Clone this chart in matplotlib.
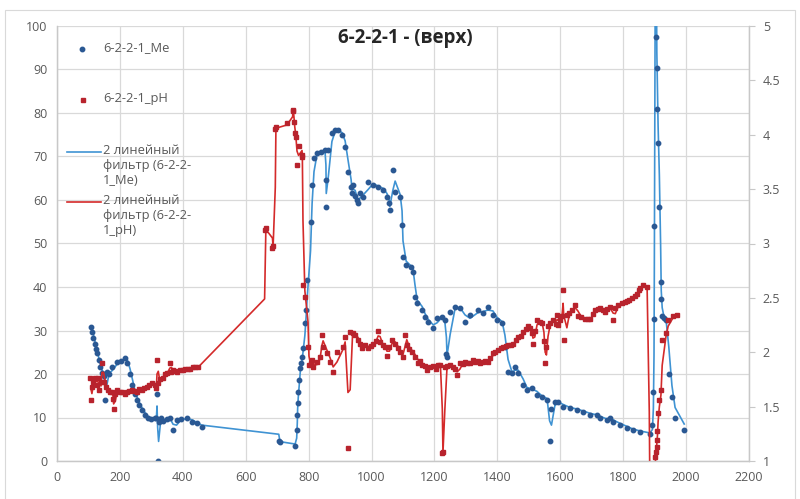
#!/usr/bin/env python
"""Me and pH profile for 6-2-2-1 (top) with 2-point moving-average lines."""

import matplotlib.pyplot as plt
import numpy as np
import pandas as pd
from matplotlib.lines import Line2D
from matplotlib.patches import Rectangle

plt.rcParams["font.family"] = ["Open Sans", "DejaVu Sans"]

TITLE = "6-2-2-1 - (верх)"
ME_LABEL = "6-2-2-1_Me"
PH_LABEL = "6-2-2-1_pH"
ME_MA_LABEL = "2 линейный\nфильтр (6-2-2-\n1_Me)"
PH_MA_LABEL = "2 линейный\nфильтр (6-2-2-\n1_pH)"

# Me (left axis)
me_x = [108, 112, 116, 120, 124, 128, 132, 137, 143, 150, 153, 158, 166, 175, 190, 205, 216, 224,
        232, 240, 247, 254, 262, 270, 280, 290, 300, 310, 316, 318, 320, 323, 330, 337, 350, 360,
        369, 380, 395, 413, 430, 445, 460, 705, 709, 757, 762, 764, 765, 767, 770, 773, 775, 779,
        782, 788, 792, 796, 806, 811, 817, 826, 839, 852, 855, 856, 862, 874, 884, 894, 906, 916,
        925, 935, 938, 941, 948, 954, 957, 963, 973, 989, 1005, 1021, 1037, 1049, 1056, 1058, 1068,
        1075, 1091, 1097, 1100, 1110, 1126, 1132, 1138, 1145, 1161, 1170, 1180, 1196, 1208, 1224,
        1232, 1238, 1240, 1250, 1265, 1281, 1297, 1313, 1339, 1355, 1370, 1386, 1399, 1415, 1424,
        1434, 1447, 1456, 1466, 1482, 1494, 1510, 1526, 1542, 1558, 1566, 1572, 1583, 1593, 1609,
        1631, 1653, 1673, 1695, 1717, 1727, 1749, 1758, 1768, 1790, 1812, 1831, 1854, 1885, 1893,
        1896, 1898, 1899, 1901, 1903, 1905, 1907, 1909, 1911, 1915, 1919, 1921, 1924, 1930, 1936,
        1945, 1955, 1965, 1994]
me_y = [30.8, 29.6, 28.3, 27.0, 25.7, 24.8, 23.2, 21.6, 20.2, 19.5, 14.0, 20.5, 20.0, 21.5, 22.8,
        23.0, 23.7, 22.5, 20.0, 17.5, 15.5, 14.0, 12.8, 11.7, 10.5, 9.9, 9.6, 9.9, 9.9, 15.4, 0.0,
        9.0, 9.9, 9.2, 9.6, 9.8, 7.1, 9.4, 9.6, 9.9, 9.0, 8.7, 7.8, 4.5, 4.4, 3.4, 7.1, 10.6, 13.3,
        15.9, 18.6, 21.4, 22.5, 23.9, 26.0, 31.7, 34.7, 41.6, 55.0, 63.4, 69.6, 70.8, 71.0, 71.5,
        64.6, 58.4, 71.5, 75.4, 76.0, 76.0, 75.0, 72.2, 66.4, 63.0, 61.6, 63.4, 61.0, 60.0, 59.3,
        61.6, 60.7, 64.1, 63.4, 63.0, 62.3, 60.7, 59.3, 57.7, 66.9, 61.8, 60.7, 54.3, 46.9, 45.0,
        44.6, 43.4, 37.7, 36.3, 34.7, 33.1, 32.0, 30.6, 32.9, 33.1, 32.4, 24.5, 24.0, 34.3, 35.4,
        35.2, 32.0, 33.6, 34.7, 34.0, 35.4, 33.6, 32.4, 31.7, 26.2, 20.5, 20.2, 21.6, 20.2, 17.5,
        16.3, 16.8, 15.2, 14.7, 14.0, 4.5, 12.0, 13.6, 13.6, 12.4, 12.2, 11.7, 11.3, 10.6, 10.6,
        9.9, 9.4, 9.9, 9.0, 8.3, 7.6, 7.1, 6.7, 6.2, 8.3, 15.9, 32.6, 54.0, 125.0, 140.0, 97.5,
        90.3, 81.0, 73.1, 58.4, 41.2, 37.2, 33.3, 32.8, 32.5, 20.0, 14.7, 9.9, 7.1]

# pH (right axis)
ph_x = [105, 108, 111, 116, 121, 126, 130, 135, 140, 143, 148, 155, 162, 170, 175, 178, 180, 185,
        191, 200, 207, 215, 222, 230, 238, 246, 254, 262, 270, 278, 286, 294, 302, 310, 316, 318,
        322, 327, 337, 344, 350, 359, 364, 369, 375, 382, 391, 400, 408, 416, 424, 432, 440, 448,
        660, 664, 685, 687, 694, 696, 731, 749, 751, 753, 756, 759, 763, 768, 779, 780, 782, 788,
        798, 801, 806, 810, 814, 826, 836, 842, 846, 858, 868, 878, 890, 909, 916, 925, 932, 940,
        948, 957, 963, 970, 979, 989, 997, 1005, 1013, 1021, 1027, 1035, 1043, 1049, 1057, 1065,
        1075, 1083, 1091, 1100, 1107, 1112, 1120, 1129, 1138, 1148, 1155, 1161, 1170, 1176, 1185,
        1196, 1204, 1211, 1219, 1225, 1227, 1233, 1240, 1250, 1258, 1265, 1272, 1281, 1290, 1297,
        1305, 1313, 1321, 1330, 1337, 1345, 1354, 1362, 1370, 1378, 1386, 1394, 1402, 1410, 1418,
        1426, 1434, 1442, 1450, 1458, 1466, 1474, 1482, 1490, 1498, 1504, 1510, 1513, 1519, 1526,
        1534, 1542, 1548, 1552, 1556, 1561, 1568, 1577, 1585, 1590, 1593, 1600, 1605, 1609, 1611,
        1621, 1629, 1637, 1647, 1656, 1667, 1679, 1687, 1695, 1703, 1711, 1719, 1727, 1735, 1742,
        1750, 1758, 1768, 1775, 1784, 1796, 1805, 1812, 1820, 1828, 1836, 1844, 1850, 1854, 1863,
        1876, 1883, 1886, 1900, 1902, 1904, 1906, 1907, 1909, 1911, 1915, 1920, 1924, 1936, 1943,
        1958, 1971]
ph_y = [1.76, 1.56, 1.68, 1.73, 1.76, 1.70, 1.76, 1.65, 1.73, 1.90, 1.73, 1.68, 1.65, 1.63, 1.63,
        1.57, 1.48, 1.62, 1.65, 1.63, 1.63, 1.62, 1.63, 1.64, 1.65, 1.64, 1.63, 1.66, 1.65, 1.67,
        1.68, 1.70, 1.72, 1.70, 1.67, 1.93, 1.72, 1.75, 1.76, 1.80, 1.81, 1.90, 1.82, 1.84, 1.83,
        1.82, 1.84, 1.84, 1.85, 1.85, 1.85, 1.86, 1.86, 1.86, 3.12, 3.14, 2.96, 2.98, 4.05, 4.07,
        4.11, 4.22, 4.23, 4.12, 4.02, 3.98, 3.72, 3.90, 3.81, 3.80, 2.62, 2.51, 2.05, 1.88, 1.90,
        1.93, 1.86, 1.91, 1.96, 2.16, 2.05, 1.99, 1.91, 1.82, 2.00, 2.05, 2.14, 1.12, 2.19, 2.18,
        2.16, 2.11, 2.08, 2.04, 2.07, 2.04, 2.06, 2.08, 2.10, 2.20, 2.09, 2.07, 2.05, 1.97, 2.05,
        2.11, 2.08, 2.04, 2.00, 1.96, 2.16, 2.07, 2.03, 2.00, 1.96, 1.90, 1.92, 1.88, 1.87, 1.84,
        1.86, 1.87, 1.85, 1.88, 1.88, 1.07, 1.08, 1.86, 1.87, 1.88, 1.86, 1.85, 1.79, 1.90, 1.89,
        1.91, 1.90, 1.90, 1.93, 1.91, 1.92, 1.90, 1.91, 1.92, 1.91, 1.95, 1.99, 2.00, 2.02, 2.04,
        2.05, 2.06, 2.07, 2.07, 2.08, 2.11, 2.14, 2.15, 2.19, 2.21, 2.24, 2.22, 2.18, 2.08, 2.20,
        2.30, 2.28, 2.27, 2.10, 1.90, 2.05, 2.24, 2.27, 2.30, 2.26, 2.34, 2.25, 2.30, 2.33, 2.57,
        2.11, 2.34, 2.36, 2.39, 2.43, 2.33, 2.32, 2.31, 2.31, 2.31, 2.35, 2.39, 2.40, 2.41, 2.39,
        2.37, 2.40, 2.42, 2.30, 2.41, 2.43, 2.45, 2.46, 2.47, 2.48, 2.50, 2.52, 2.54, 2.57, 2.59,
        2.62, 2.60, 0.30, 0.30, 0.90, 1.04, 1.08, 1.13, 1.19, 1.28, 1.44, 1.56, 1.65, 2.11, 2.18,
        2.30, 2.33, 2.34]

x_ticks = np.arange(0, 2201, 200)
me_ticks = np.arange(0, 101, 10)
ph_ticks = [1, 1.5, 2, 2.5, 3, 3.5, 4, 4.5, 5]
ph_tick_labels = ["1", "1.5", "2", "2.5", "3", "3.5", "4", "4.5", "5"]

ME_DOT = "#2a5893"
ME_LINE = "#3f93d3"
PH_DOT = "#b8232d"
PH_LINE = "#d42a2a"
GRID = "#d9d9d9"
TEXT = "#595959"


def main() -> None:
    me = pd.DataFrame({"x": me_x, "y": me_y})
    ph = pd.DataFrame({"x": ph_x, "y": ph_y})
    me["ma"] = me["y"].rolling(2).mean()
    ph["ma"] = ph["y"].rolling(2).mean()

    fig = plt.figure(figsize=(8.0, 4.99), dpi=100)
    ax = fig.add_axes([57 / 800, 1 - 461 / 499, 692 / 800, 435 / 499])
    ax2 = ax.twinx()

    ax.plot(me["x"], me["ma"], color=ME_LINE, lw=1.2, zorder=2)
    ax.plot(me["x"], me["y"], ls="none", marker="o", ms=3.2, color=ME_DOT, zorder=3)
    ax2.plot(ph["x"], ph["ma"], color=PH_LINE, lw=1.2, zorder=2)
    ax2.plot(ph["x"], ph["y"], ls="none", marker="s", ms=3.4, color=PH_DOT, zorder=3)

    ax.set_xlim(0, 2200)
    ax.set_ylim(0, 100)
    ax2.set_ylim(1, 5)
    ax.set_xticks(x_ticks)
    ax.set_yticks(me_ticks)
    ax2.set_yticks(ph_ticks, ph_tick_labels)
    ax.grid(color=GRID, lw=0.9)
    ax.set_axisbelow(True)
    for a in (ax, ax2):
        for s in a.spines.values():
            s.set_color("#c8c8c8")
            s.set_linewidth(0.9)
    ax.spines["top"].set_visible(False)
    ax2.spines["top"].set_visible(False)
    ax.tick_params(axis="y", length=0, pad=7, labelsize=9, labelcolor=TEXT)
    ax.tick_params(axis="x", length=0, pad=7, labelsize=9, labelcolor=TEXT)
    ax2.tick_params(axis="y", length=4, color="#c8c8c8", pad=6, labelsize=9, labelcolor=TEXT)

    fig.text(405 / 800, 1 - 38 / 499, TITLE, ha="center", va="center", fontsize=13.5,
             weight="bold", color="#262626")

    # legend drawn by hand so the line handles sit on the first text line, as in Excel
    def px(x, y):
        return x / 800, 1 - y / 499

    fig.add_artist(Line2D(*zip(px(82, 49)), marker="o", ms=3.2, color=ME_DOT, ls="none"))
    fig.add_artist(Line2D(*zip(px(83, 100)), marker="s", ms=3.4, color=PH_DOT, ls="none"))
    fig.add_artist(Line2D(*zip(px(67, 152), px(101, 152)), color=ME_LINE, lw=1.2))
    fig.add_artist(Line2D(*zip(px(67, 202), px(101, 202)), color=PH_LINE, lw=1.2))
    for label, (x, y) in [(ME_LABEL, (103, 49)), (PH_LABEL, (103, 100)),
                          (ME_MA_LABEL, (103, 152)), (PH_MA_LABEL, (103, 202))]:
        fig.text(*px(x, y - 8), label, ha="left", va="top", fontsize=9.3, color=TEXT,
                 linespacing=1.2)

    fig.add_artist(Rectangle((0.006, -0.01), 0.988, 0.99, transform=fig.transFigure,
                             fill=False, edgecolor="#d9d9d9", lw=0.8))
    fig.savefig("out.png", dpi=100, facecolor="white")
    plt.close(fig)


if __name__ == "__main__":
    main()
